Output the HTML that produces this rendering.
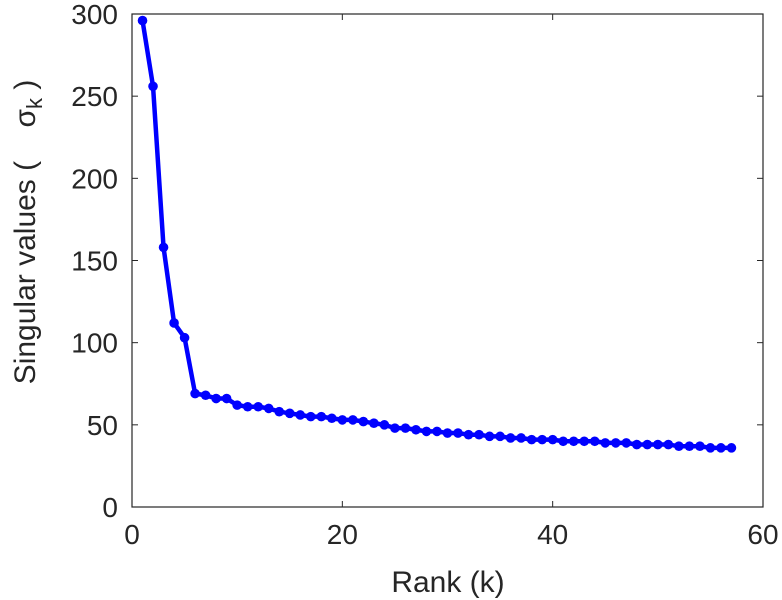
<!DOCTYPE html>
<html><head><style>body{margin:0;background:#fff}svg{display:block}</style></head><body>
<svg id="s" width="782" height="600" xmlns="http://www.w3.org/2000/svg" font-family="Liberation Sans, sans-serif" fill="#262626">
<rect x="132" y="14" width="631" height="493" fill="none" stroke="#262626" stroke-width="1.2"/>
<g id="t" font-size="28"></g>
<text x="448" y="592" font-size="30" text-anchor="middle">Rank (k)</text>
<text transform="translate(35,232) rotate(-90)" font-size="30" text-anchor="middle" xml:space="preserve">Singular values (    σ<tspan font-size="22" dy="7">k</tspan><tspan dy="-7"> )</tspan></text>
<polyline id="p" fill="none" stroke="#0000ff" stroke-width="4.5" stroke-linejoin="round"/>
<g id="m" fill="#0000ff"></g>
</svg>
<script>
var v=[296,256,158,112,103,69,68,66,66,62,61,61,60,58,57,56,55,55,54,53,53,52,51,50,48,48,47,46,46,45,45,44,44,43,43,42,42,41,41,41,40,40,40,40,39,39,39,38,38,38,38,37,37,37,36,36,36];
function X(k){return 132+k*631/60}function Y(y){return 507-y*493/300}
var pts=[],m='';v.forEach(function(y,i){var x=X(i+1),yy=Y(y);pts.push(x+','+yy);m+='<circle cx="'+x+'" cy="'+yy+'" r="4.8"/>';});
document.getElementById('p').setAttribute('points',pts.join(' '));document.getElementById('m').innerHTML=m;
var t='';[0,20,40,60].forEach(function(k){var x=X(k);t+='<text x="'+x+'" y="544" text-anchor="middle">'+k+'</text>';t+='<line x1="'+x+'" y1="507" x2="'+x+'" y2="501" stroke="#262626"/><line x1="'+x+'" y1="14" x2="'+x+'" y2="20" stroke="#262626"/>';});
for(var y=0;y<=300;y+=50){var yy=Y(y);t+='<text x="118" y="'+(yy+10)+'" text-anchor="end">'+y+'</text>';t+='<line x1="132" y1="'+yy+'" x2="138" y2="'+yy+'" stroke="#262626"/><line x1="763" y1="'+yy+'" x2="757" y2="'+yy+'" stroke="#262626"/>';}
document.getElementById('t').innerHTML=t;
</script>
</body></html>
